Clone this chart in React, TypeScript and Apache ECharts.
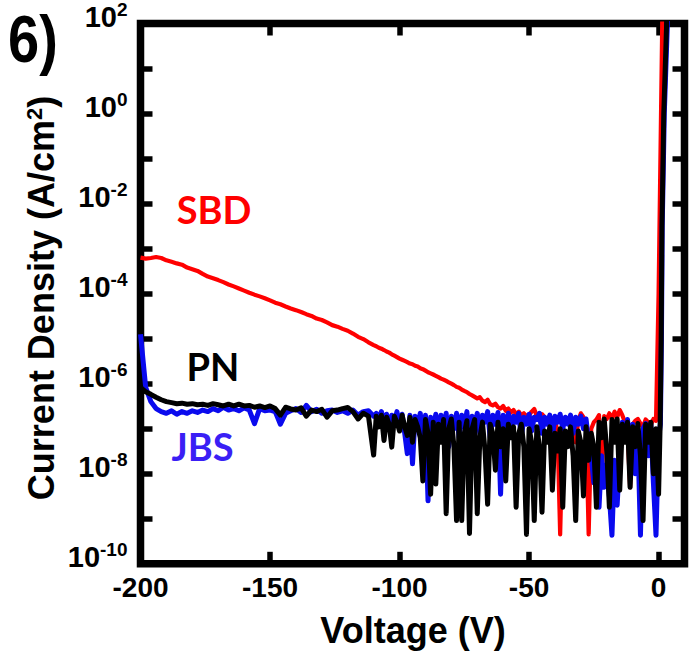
import React, { useEffect, useRef } from "react";
import * as echarts from "echarts";

// Voltage grid (V): coarse part then fine part
const voltageCoarse = [
  -200, -198, -196, -194, -192, -190, -188, -186, -184, -182,
  -180, -178, -176, -174, -172, -170, -168, -166, -164, -162,
  -160, -158, -156, -154, -152, -150, -148, -146, -144, -142,
  -140, -138, -136, -134, -132, -130, -128, -126, -124, -122,
  -120, -118, -116, -114, -112, -110,
];
const voltageFine = [
  -109, -108, -107, -106, -105, -104, -103, -102, -101, -100,
  -99, -98, -97, -96, -95, -94, -93, -92, -91, -90,
  -89, -88, -87, -86, -85, -84, -83, -82, -81, -80,
  -79, -78, -77, -76, -75, -74, -73, -72, -71, -70,
  -69, -68, -67, -66, -65, -64, -63, -62, -61, -60,
  -59, -58, -57, -56, -55, -54, -53, -52, -51, -50,
  -49, -48, -47, -46, -45, -44, -43, -42, -41, -40,
  -39, -38, -37, -36, -35, -34, -33, -32, -31, -30,
  -29, -28, -27, -26, -25, -24, -23, -22, -21, -20,
  -19, -18, -17, -16, -15, -14, -13, -12, -11, -10,
  -9, -8, -7, -6, -5, -4, -3, -2, -1, 0,
];

// SBD current density (A/cm^2)
const sbdCoarse = [
  6.3e-4, 6.0e-4, 6.2e-4, 6.5e-4, 6.2e-4, 5.5e-4, 5.1e-4, 4.7e-4, 4.4e-4, 3.8e-4,
  3.5e-4, 3.2e-4, 2.75e-4, 2.4e-4, 2.2e-4, 2.0e-4, 1.8e-4, 1.6e-4, 1.45e-4, 1.3e-4,
  1.17e-4, 1.05e-4, 9.5e-5, 8.7e-5, 7.9e-5, 7.1e-5, 6.3e-5, 5.8e-5, 5.2e-5, 4.7e-5,
  4.3e-5, 3.9e-5, 3.5e-5, 3.2e-5, 2.8e-5, 2.6e-5, 2.3e-5, 2.0e-5, 1.85e-5, 1.65e-5,
  1.5e-5, 1.3e-5, 1.1e-5, 9.8e-6, 8.3e-6, 7.2e-6,
];
const sbdFine = [
  6.8e-6, 6.3e-6, 6.0e-6, 5.6e-6, 5.2e-6, 4.9e-6, 4.5e-6, 4.2e-6, 3.9e-6, 3.6e-6,
  3.4e-6, 3.2e-6, 3.0e-6, 2.8e-6, 2.7e-6, 2.5e-6, 2.4e-6, 2.2e-6, 2.1e-6, 1.95e-6,
  1.8e-6, 1.7e-6, 1.6e-6, 1.5e-6, 1.4e-6, 1.3e-6, 1.23e-6, 1.15e-6, 1.07e-6, 1.0e-6,
  9.3e-7, 8.5e-7, 8.1e-7, 7.4e-7, 6.9e-7, 6.5e-7, 5.9e-7, 5.5e-7, 5.1e-7, 4.7e-7,
  5.0e-7, 4.2e-7, 3.9e-7, 4.4e-7, 3.5e-7, 3.3e-7, 3.6e-7, 3.0e-7, 2.8e-7, 3.2e-7,
  2.5e-7, 2.8e-7, 2.3e-7, 2.6e-7, 2.1e-7, 2.4e-7, 2.0e-7, 2.2e-7, 1.9e-7, 2.0e-7,
  2.4e-7, 2.75e-7, 1.9e-7, 1.6e-7, 2.1e-7, 1.8e-7, 1.26e-7, 1.9e-7, 1.4e-7, 1.65e-7,
  7.9e-8, 4.5e-10, 1.1e-7, 1.6e-7, 1.3e-7, 1.8e-7, 1.1e-7, 5.0e-8, 1.5e-7, 2.2e-7,
  1.8e-7, 1.26e-7, 4.5e-10, 1.0e-7, 1.4e-7, 1.6e-7, 2.0e-7, 6.3e-9, 1.9e-7, 1.65e-7,
  2.2e-7, 1.6e-7, 2.4e-7, 1.8e-7, 2.6e-7, 2.0e-7, 1.4e-7, 8.9e-8, 5.0e-9, 1.26e-7,
  1.5e-7, 1.65e-7, 1.3e-7, 1.1e-7, 1.6e-7, 1.4e-7, 1.2e-7, 1.65e-7, 1.5e-7, 1.0e-4,
];
const sbdForwardV = [0.7, 1.4, 1.6];
const sbdForwardJ = [0.1, 100, 300];

// PN current density (A/cm^2)
const pnCoarse = [
  8.3e-7, 6.6e-7, 5.8e-7, 5.0e-7, 4.4e-7, 4.0e-7, 3.8e-7, 3.6e-7, 3.7e-7, 3.5e-7,
  3.6e-7, 3.4e-7, 3.5e-7, 3.3e-7, 3.6e-7, 3.4e-7, 3.2e-7, 3.5e-7, 3.2e-7, 3.5e-7,
  3.2e-7, 3.3e-7, 3.0e-7, 3.2e-7, 2.95e-7, 3.2e-7, 2.8e-7, 2.0e-7, 3.0e-7, 2.75e-7,
  2.6e-7, 2.9e-7, 1.9e-7, 2.6e-7, 2.4e-7, 2.7e-7, 1.8e-7, 2.5e-7, 2.6e-7, 2.8e-7,
  2.95e-7, 2.4e-7, 1.65e-7, 2.2e-7, 1.9e-7, 2.6e-8,
];
const pnFine = [
  1.9e-7, 1.1e-7, 2.0e-7, 5.5e-8, 1.8e-7, 1.26e-7, 3.9e-8, 1.9e-7, 1.4e-7, 8.9e-8,
  2.0e-7, 1.1e-7, 7.1e-8, 1.8e-7, 5.0e-8, 1.6e-7, 1.1e-7, 6.3e-8, 6.9e-9, 1.6e-7,
  7.9e-8, 3.5e-9, 1.4e-7, 5.9e-9, 1.26e-7, 5.0e-8, 1.6e-7, 1.3e-9, 1.0e-7, 1.65e-7,
  4.0e-8, 9.1e-10, 1.4e-7, 9.1e-10, 7.9e-8, 1.5e-7, 4.7e-10, 1.0e-7, 1.6e-7, 1.3e-9,
  6.3e-8, 1.4e-7, 3.2e-8, 2.1e-9, 1.26e-7, 7.9e-8, 1.2e-8, 1.4e-7, 4.0e-8, 1.0e-7,
  6.9e-9, 1.26e-7, 6.3e-8, 1.1e-7, 1.8e-9, 7.9e-8, 1.26e-7, 4.0e-8, 4.5e-10, 1.0e-7,
  5.0e-8, 9.1e-10, 1.1e-7, 4.0e-8, 1.4e-9, 8.9e-8, 5.0e-8, 1.1e-7, 4.3e-9, 7.9e-8,
  3.2e-8, 1.0e-7, 1.8e-9, 8.9e-8, 4.0e-8, 1.1e-7, 2.5e-8, 9.1e-10, 8.9e-8, 5.0e-8,
  3.2e-9, 1.1e-7, 2.0e-8, 7.9e-8, 4.0e-8, 1.8e-9, 1.4e-7, 6.3e-8, 1.65e-7, 3.2e-8,
  1.8e-9, 1.6e-7, 5.0e-8, 1.65e-7, 4.3e-9, 1.26e-7, 5.0e-8, 1.4e-7, 5.0e-9, 1.1e-7,
  4.0e-8, 1.3e-7, 2.5e-8, 9.1e-10, 1.26e-7, 5.0e-8, 1.4e-7, 1.0e-8, 1.0e-7, 3.5e-9,
];
const pnForwardV = [0.6, 1.0, 1.3, 2.0, 3.1, 3.3];
const pnForwardJ = [1.26e-7, 1e-5, 3.2e-3, 1.0, 100, 300];

// JBS current density (A/cm^2)
const jbsCoarse = [
  1.26e-5, 8.3e-7, 4.0e-7, 2.8e-7, 2.4e-7, 2.2e-7, 2.5e-7, 2.1e-7, 2.4e-7, 2.2e-7,
  2.5e-7, 2.3e-7, 2.6e-7, 2.4e-7, 2.8e-7, 2.5e-7, 3.0e-7, 2.6e-7, 2.8e-7, 2.5e-7,
  2.9e-7, 2.6e-7, 1.3e-7, 2.8e-7, 2.5e-7, 2.6e-7, 2.4e-7, 1.26e-7, 2.2e-7, 2.5e-7,
  2.8e-7, 2.3e-7, 3.3e-7, 2.4e-7, 2.7e-7, 2.2e-7, 2.5e-7, 2.6e-7, 2.3e-7, 2.5e-7,
  2.2e-7, 2.6e-7, 2.0e-7, 2.4e-7, 2.5e-7, 1.9e-7,
];
const jbsFine = [
  2.2e-7, 1.6e-7, 2.4e-7, 1.26e-7, 2.1e-7, 1.0e-7, 2.0e-7, 1.4e-7, 2.4e-7, 1.1e-7,
  2.1e-7, 7.9e-8, 2.8e-8, 2.0e-7, 1.66e-8, 1.9e-7, 1.26e-7, 2.2e-7, 6.3e-8, 2.0e-7,
  2.5e-9, 1.8e-7, 1.0e-7, 2.1e-7, 5.0e-8, 2.0e-7, 1.1e-7, 2.2e-7, 4.0e-8, 1.9e-7,
  1.0e-7, 2.2e-7, 6.3e-8, 2.0e-7, 1.1e-7, 2.4e-7, 5.0e-8, 1.9e-7, 1.26e-7, 2.2e-7,
  7.9e-8, 2.0e-7, 1.4e-7, 2.4e-7, 6.3e-8, 2.0e-7, 1.26e-7, 2.3e-7, 3.5e-9, 2.0e-7,
  1.1e-7, 2.2e-7, 7.9e-8, 1.9e-7, 1.4e-7, 2.2e-7, 6.3e-8, 1.8e-7, 1.26e-7, 2.1e-7,
  8.9e-8, 1.8e-7, 1.6e-7, 2.2e-7, 7.9e-8, 1.8e-7, 1.26e-7, 2.0e-7, 6.3e-8, 1.9e-7,
  1.4e-7, 2.1e-7, 1.0e-7, 1.8e-7, 1.26e-7, 2.0e-7, 7.9e-8, 1.8e-7, 1.26e-7, 1.9e-7,
  1.0e-7, 1.65e-7, 5.0e-8, 2.5e-8, 6.3e-9, 2.0e-8, 1.8e-9, 2.5e-8, 5.0e-9, 1.6e-8,
  3.2e-9, 4.3e-10, 2.0e-8, 2.0e-9, 2.5e-8, 1.4e-7, 6.3e-8, 1.6e-7, 3.2e-8, 1.26e-7,
  1.0e-8, 6.3e-8, 4.3e-10, 1.0e-7, 1.3e-7, 2.5e-8, 1.26e-7, 6.3e-9, 4.3e-10, 6.3e-8,
];
const jbsForwardV = [0.7, 1.1, 1.4, 2.2, 3.4, 3.6];
const jbsForwardJ = [1.26e-7, 1e-5, 3.2e-3, 1.0, 100, 300];

const xTicksInterval = 50;

const AXIS_FONT = "'Liberation Sans', Arial, Helvetica, sans-serif";
const TAG_FONT = "Lato, 'Open Sans', sans-serif";

function pairs(v: number[], j: number[]) {
  return v.map((x, i) => [x, j[i]]);
}

export default function App() {
  const ref = useRef<HTMLDivElement>(null);

  useEffect(() => {
    document.body.style.margin = "0";
    if (!ref.current) return;
    const chart = echarts.init(ref.current, null, { renderer: "svg" });
    const voltage = [...voltageCoarse, ...voltageFine];
    const build = (c: number[], f: number[], fv: number[], fj: number[]) => [
      ...pairs(voltage, [...c, ...f]),
      ...pairs(fv, fj),
    ];

    const tickStyle = {
      show: true,
      inside: true,
      length: 12,
      lineStyle: { color: "#000", width: 5.5 },
    };
    const expLabel = (val: number) => {
      const e = Math.round(Math.log10(val));
      return e % 2 === 0 ? `{m|10}{s|${e}}` : "";
    };
    const lineBase = {
      type: "line",
      showSymbol: false,
      symbol: "none",
      silent: true,
      clip: true,
      xAxisIndex: 0,
      yAxisIndex: 0,
    };

    chart.setOption({
      animation: false,
      grid: {
        left: 140.5,
        right: 15.5,
        top: 22.2,
        bottom: 89.2,
        show: true,
        borderColor: "#000",
        borderWidth: 7.5,
        backgroundColor: "transparent",
      },
      xAxis: [
        {
          type: "value",
          position: "bottom",
          min: -200,
          max: 10,
          interval: xTicksInterval,
          axisLine: { show: false, onZero: false },
          axisTick: tickStyle,
          splitLine: { show: false },
          axisLabel: {
            fontSize: 28,
            fontWeight: "bold",
            fontFamily: AXIS_FONT,
            color: "#000",
            margin: 10,
            showMaxLabel: false,
          },
        },
        {
          type: "value",
          position: "top",
          min: -200,
          max: 10,
          interval: xTicksInterval,
          axisLine: { show: false, onZero: false },
          axisTick: tickStyle,
          splitLine: { show: false },
          axisLabel: { show: false },
        },
      ],
      yAxis: [
        {
          type: "log",
          logBase: 10,
          min: 1e-10,
          max: 100,
          interval: 1,
          splitNumber: 12,
          position: "left",
          axisLine: { show: false, onZero: false },
          axisTick: tickStyle,
          splitLine: { show: false },
          minorTick: { show: false },
          axisLabel: {
            formatter: expLabel,
            margin: 13,
            rich: {
              m: {
                fontSize: 29,
                fontWeight: "bold",
                fontFamily: AXIS_FONT,
                color: "#000",
                lineHeight: 29,
                padding: [0, 0, 13, 0],
              },
              s: {
                fontSize: 19,
                fontWeight: "bold",
                fontFamily: AXIS_FONT,
                color: "#000",
                lineHeight: 14,
                padding: [0, 0, 28, 0],
              },
            },
          },
        },
        {
          type: "log",
          logBase: 10,
          min: 1e-10,
          max: 100,
          interval: 1,
          splitNumber: 12,
          position: "right",
          axisLine: { show: false, onZero: false },
          axisTick: tickStyle,
          splitLine: { show: false },
          axisLabel: { show: false },
        },
      ],
      series: [
        {
          ...lineBase,
          name: "SBD",
          z: 2,
          data: build(sbdCoarse, sbdFine, sbdForwardV, sbdForwardJ),
          lineStyle: { color: "#ff0000", width: 4.2, join: "round" },
          itemStyle: { color: "#ff0000" },
        },
        {
          ...lineBase,
          name: "JBS",
          z: 3,
          data: build(jbsCoarse, jbsFine, jbsForwardV, jbsForwardJ),
          lineStyle: { color: "#0a0aee", width: 5, join: "round" },
          itemStyle: { color: "#0a0aee" },
        },
        {
          ...lineBase,
          name: "PN",
          z: 4,
          data: build(pnCoarse, pnFine, pnForwardV, pnForwardJ),
          lineStyle: { color: "#000000", width: 5, join: "round" },
          itemStyle: { color: "#000000" },
        },
      ],
      graphic: [
        {
          type: "text",
          x: 8,
          y: 39,
          scaleY: 1.2,
          style: {
            text: "6)",
            fontSize: 56,
            fontWeight: "bold",
            fontFamily: AXIS_FONT,
            fill: "#000",
            align: "left",
            verticalAlign: "middle",
          },
        },
        {
          type: "text",
          x: 41,
          y: 298,
          rotation: Math.PI / 2,
          style: {
            text: "{a|Current Density (A/cm}{s|2}{a|)}",
            align: "center",
            verticalAlign: "middle",
            rich: {
              a: {
                fontSize: 36,
                fontWeight: "bold",
                fontFamily: AXIS_FONT,
                fill: "#000",
                lineHeight: 36,
              },
              s: {
                fontSize: 22,
                fontWeight: "bold",
                fontFamily: AXIS_FONT,
                fill: "#000",
                lineHeight: 14,
                verticalAlign: "top",
              },
            },
          },
        },
        {
          type: "text",
          x: 413,
          y: 630.5,
          style: {
            text: "Voltage (V)",
            fontSize: 36,
            fontWeight: "bold",
            fontFamily: AXIS_FONT,
            fill: "#000",
            align: "center",
            verticalAlign: "middle",
          },
        },
        {
          type: "text",
          x: 214,
          y: 208.5,
          style: {
            text: "SBD",
            fontSize: 38,
            fontWeight: "bold",
            fontFamily: TAG_FONT,
            fill: "#ff0000",
            align: "center",
            verticalAlign: "middle",
          },
        },
        {
          type: "text",
          x: 213,
          y: 366,
          style: {
            text: "PN",
            fontSize: 38,
            fontWeight: "bold",
            fontFamily: TAG_FONT,
            fill: "#000",
            align: "center",
            verticalAlign: "middle",
          },
        },
        {
          type: "text",
          x: 202.5,
          y: 446,
          style: {
            text: "JBS",
            fontSize: 38,
            fontWeight: "bold",
            fontFamily: TAG_FONT,
            fill: "#3a1ff5",
            align: "center",
            verticalAlign: "middle",
          },
        },
      ],
    });

    return () => {
      chart.dispose();
    };
  }, []);

  return <div ref={ref} style={{ width: 700, height: 653 }} />;
}
